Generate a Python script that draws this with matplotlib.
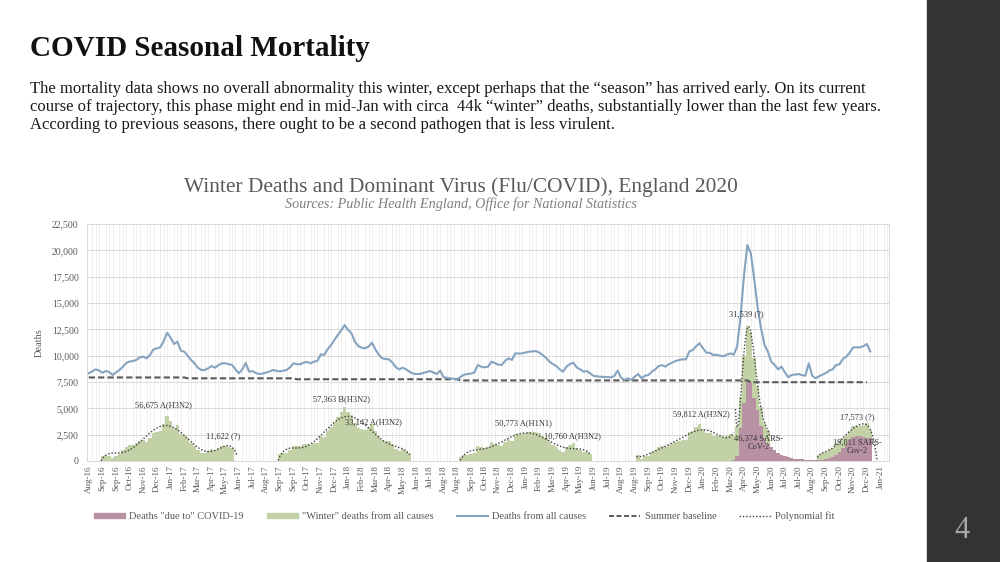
import numpy as np
import pandas as pd
import matplotlib
matplotlib.use('Agg')
import matplotlib.pyplot as plt
from matplotlib.patches import Patch, Rectangle
from matplotlib.lines import Line2D
from matplotlib.ticker import FuncFormatter, MultipleLocator

plt.rcParams['font.family'] = ['Liberation Serif', 'DejaVu Serif']

# weekly data, England, week ending Fridays from 5 Aug 2016
first_week = '2016-08-05'
n_weeks_axis = 235

all_deaths = [
    8330, 8500, 8700, 8600, 8390, 8540, 8450, 8170, 8400, 8640,
    8950, 9300, 9450, 9490, 9600, 9850, 9900, 9750, 10100, 10600,
    10700, 10800, 11400, 12180, 11700, 11110, 11330, 10470, 10380, 10000,
    9590, 9275, 8850, 8640, 8640, 8800, 9020, 8860, 9100, 9275,
    9275, 9200, 9115, 8700, 8325, 8700, 9300, 8480, 8540, 8350,
    8260, 8300, 8400, 8500, 8640, 8560, 8510, 8580, 8640, 8900,
    9275, 9200, 9180, 9350, 9400, 9275, 9430, 9500, 10130, 10070,
    10600, 11000, 11500, 11960, 12400, 12910, 12430, 12120, 11330, 10900,
    10760, 10700, 10860, 11230, 10600, 10100, 9750, 9680, 9650, 9340,
    8900, 8700, 8860, 8700, 8480, 8300, 8260, 8260, 8350, 8450,
    8545, 8400, 8260, 8575, 7950, 7900, 7850, 7800, 7755, 8000,
    8200, 8260, 8300, 8400, 9115, 8950, 8890, 8955, 9430, 9300,
    9150, 9115, 9500, 9750, 9590, 10220, 10200, 10220, 10300, 10380,
    10400, 10440, 10300, 10060, 9800, 9430, 9200, 9020, 8700, 8480,
    8955, 9200, 9335, 8890, 8700, 8480, 8540, 8300, 8070, 8030,
    8000, 7980, 7960, 7945, 8070, 8575, 7900, 7690, 7850, 7690,
    8000, 8260, 7850, 8100, 8165, 8480, 8700, 9020, 9100, 8955,
    9200, 9335, 9500, 9590, 9650, 9650, 10400, 10540, 10900, 11170,
    10700, 10280, 10280, 10060, 10100, 10000, 9940, 10100, 10220, 10100,
    10850, 13700, 17600, 20510, 19720, 17300, 14600, 12600, 11050, 10380,
    9430, 9115, 8700, 8960, 8400, 7950, 8180, 8200, 8260, 8150,
    8100, 9275, 8100, 7850, 8050, 8200, 8350, 8600, 8700, 9115,
    9180, 9700, 9905, 10300, 10790, 10790, 10790, 10900, 11110, 10400,
]

# summer baseline: level and number of weeks it applies to
baseline_levels = [7930, 7850, 7760, 7650, 7480]
baseline_weeks = [29, 32, 48, 85, 36]

# deaths "due to" COVID-19, from week ending 20 Mar 2020
covid_first = '2020-03-20'
covid_deaths = [
    100, 500, 3100, 5500, 7550, 7500, 6000, 4800, 3300, 2200,
    1600, 1300, 1000, 750, 550, 450, 350, 280, 220, 180,
    150, 120, 110, 100, 100, 110, 130, 200, 280, 400,
    600, 850, 1200, 1650, 2000, 2250, 2350, 2350, 2300, 2200, 2150,
]

# "winter" windows (first week, last week) and polynomial fit segments
seasons = [('2016-09-02', '2017-05-26'), ('2017-09-01', '2018-05-25'),
           ('2018-09-07', '2019-05-31'), ('2019-09-06', '2020-05-29'),
           ('2020-09-11', '2020-12-25')]
fit_segments = [('2016-09-02', '2017-05-26', 1.5), ('2017-09-01', '2018-05-25', 0),
                ('2018-09-07', '2019-05-31', 0), ('2019-09-06', '2020-03-20', 0),
                ('2020-03-27', '2020-05-29', 0.5), ('2020-09-11', '2020-12-25', 4)]

labels = ['56,675 A(H3N2)', '11,622 (?)', '57,363 B(H3N2)', '33,142 A(H3N2)',
          '50,773 A(H1N1)', '10,760 A(H3N2)', '59,812 A(H3N2)', '31,539 (?)',
          '46,374 SARS-\nCoV-2', '17,573 (?)', '19,811 SARS-\nCov-2']
label_pos = [(21.8, 5300), (39.3, 2310), (74.2, 5860), (83.5, 3730),
             (127.4, 3575), (141.6, 2310), (179.6, 4430), (192.7, 13930),
             (196.4, 1700), (225.2, 4150), (225.2, 1330)]

# ---- derived series
weeks = pd.date_range(first_week, periods=n_weeks_axis, freq='7D')
wk = {d: i for i, d in enumerate(weeks)}
x_all = np.arange(len(all_deaths))
deaths = np.array(all_deaths, float)
baseline = np.repeat(baseline_levels, baseline_weeks).astype(float)

winter = np.zeros(len(all_deaths))
for s, e in seasons:
    a, b = wk[pd.Timestamp(s)], wk[pd.Timestamp(e)]
    winter[a:b + 1] = deaths[a:b + 1] - baseline[a:b + 1]
winter = np.clip(winter, 0, None)

c0 = wk[pd.Timestamp(covid_first)]
x_covid = np.arange(c0, c0 + len(covid_deaths))

# ---- figure
fig = plt.figure(figsize=(10, 5.62), dpi=100)
fig.patches.append(Rectangle((0.927, 0), 0.073, 1, transform=fig.transFigure,
                             color='#333333', zorder=0))
fig.text(0.962, 1 - 531 / 562, '4', fontsize=22, color='#a6a6a6',
         ha='center', va='center')

fig.text(0.030, 1 - 48 / 562, 'COVID Seasonal Mortality', fontsize=21,
         fontweight='bold', color='#111111', va='center')
body = ['The mortality data shows no overall abnormality this winter, except perhaps that the \u201cseason\u201d has arrived early. On its current',
        'course of trajectory, this phase might end in mid-Jan with circa  44k \u201cwinter\u201d deaths, substantially lower than the last few years.',
        'According to previous seasons, there ought to be a second pathogen that is less virulent.']
for k, line in enumerate(body):
    fig.text(0.030, 1 - (89 + 18 * k) / 562, line, fontsize=12.0,
             color='#1a1a1a', va='center')

fig.text(0.461, 1 - 187 / 562,
         'Winter Deaths and Dominant Virus (Flu/COVID), England 2020',
         fontsize=15.4, color='#595959', ha='center', va='center')
fig.text(0.461, 1 - 204 / 562,
         'Sources: Public Health England, Office for National Statistics',
         fontsize=10.2, style='italic', color='#7f7f7f', ha='center', va='center')

ax = fig.add_axes([0.087, 1 - 461 / 562, 0.802, 237 / 562])

green = '#c3d2a6'
mauve = '#b892a3'
blue = '#86a3bf'

ax.bar(x_all, winter, width=1.0, color=green, linewidth=0, zorder=2)
ax.bar(x_covid, covid_deaths, width=1.0, color=mauve, linewidth=0, zorder=3)

for s, e, ext in fit_segments:
    a, b = wk[pd.Timestamp(s)], wk[pd.Timestamp(e)]
    xs = np.arange(a, b + 1)
    p = np.polynomial.Polynomial.fit(xs, winter[a:b + 1], 6)
    xf = np.linspace(a - 0.5, b + ext, 300)
    yf = p(xf)
    keep = yf >= 0
    ax.plot(xf[keep], yf[keep], color='#404040', lw=1.0,
            linestyle=(0, (1, 1.4)), zorder=4)

ax.plot(x_all[:len(baseline) - 1], baseline[:-1], color='#595959', lw=1.5,
        linestyle=(0, (3, 1.5)), zorder=5)
ax.plot(x_all, deaths, color=blue, lw=1.5, zorder=6)

for t, (xp, yp) in zip(labels, label_pos):
    ax.text(xp, yp, t, fontsize=6, color='#333333', ha='center', va='center',
            linespacing=0.95, zorder=7)

ax.set_xlim(-0.5, n_weeks_axis - 0.5)
ax.set_ylim(0, 22500)
ax.yaxis.set_major_locator(MultipleLocator(2500))
ax.yaxis.set_major_formatter(FuncFormatter(lambda v, p: f'{int(v):,}'))
ticks = np.arange(0, n_weeks_axis, 4)
ax.set_xticks(ticks)
ax.set_xticklabels([weeks[i].strftime('%b-%y') for i in ticks], rotation=90,
                   fontsize=6.5, color='#595959')
ax.set_xticks(np.arange(n_weeks_axis), minor=True)
ax.tick_params(axis='both', which='both', length=0)
ax.tick_params(axis='y', labelsize=7, labelcolor='#595959', pad=6)
ax.tick_params(axis='x', pad=3)
ax.grid(axis='x', which='minor', color='#e9e9e9', lw=0.5, zorder=0)
ax.grid(axis='y', which='major', color='#dadada', lw=0.7, zorder=0)
ax.set_axisbelow(True)
for sp in ax.spines.values():
    sp.set_color('#dadada')
    sp.set_linewidth(0.7)
ax.set_ylabel('Deaths', fontsize=7.5, color='#595959', labelpad=6)

handles = [Patch(color=mauve), Patch(color=green), Line2D([], [], color=blue, lw=1.5),
           Line2D([], [], color='#404040', lw=1.2, linestyle=(0, (3, 1.5))),
           Line2D([], [], color='#404040', lw=1.0, linestyle=(0, (1, 1.4)))]
names = ['Deaths "due to" COVID-19', '"Winter" deaths from all causes',
         'Deaths from all causes', 'Summer baseline', 'Polynomial fit']
fig.legend(handles, names, loc='center', bbox_to_anchor=(0.464, 1 - 516 / 562),
           ncol=5, frameon=False, fontsize=7.5, handlelength=3.0,
           handleheight=0.35, columnspacing=2.2, handletextpad=0.4,
           labelcolor='#595959')

fig.savefig('out.png', dpi=100)
